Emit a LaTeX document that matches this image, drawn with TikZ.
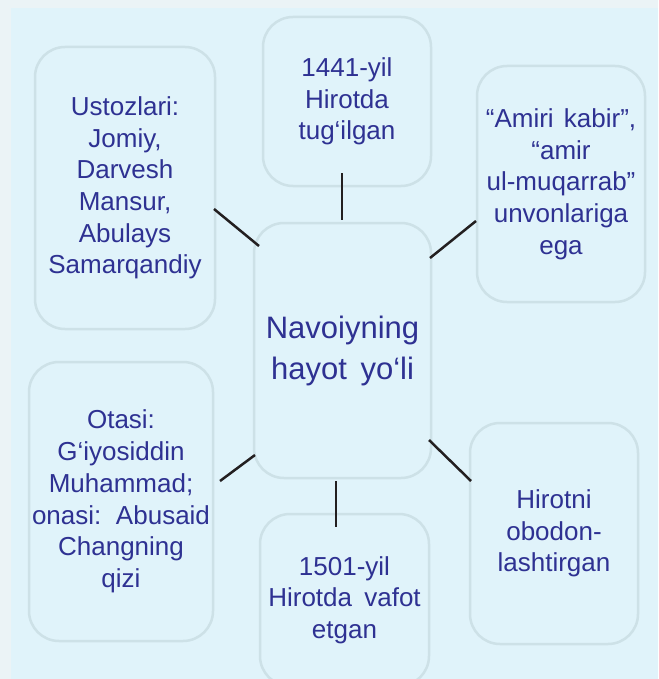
\documentclass[tikz,border=0pt]{standalone}
\usepackage{fontspec}
\setmainfont{Liberation Sans}
\definecolor{outerbg}{HTML}{EBF3F6}
\definecolor{innerbg}{HTML}{E0F3FA}
\definecolor{boxline}{HTML}{CDE1E7}
\definecolor{txt}{RGB}{46,49,146}
\definecolor{conn}{HTML}{231F20}
\begin{document}
\begin{tikzpicture}[x=1pt,y=-1pt,
  infobox/.style={draw=boxline, fill=innerbg, line width=2.5pt, rounded corners=30pt,
    align=center, text=txt, inner sep=0pt, font=\fontsize{26}{31.7}\selectfont},
  centerbox/.style={infobox, font=\fontsize{31}{41}\selectfont},
  connector/.style={draw=conn, line width=2.5pt}]
\useasboundingbox (0,0) rectangle (658,679);
\fill[outerbg] (0,0) rectangle (658,679);
\fill[innerbg] (11,8) rectangle (658,679);

\node[infobox, minimum width=180pt, minimum height=282pt] (u) at (125,188)
  {Ustozlari:\\Jomiy,\\Darvesh\\Mansur,\\Abulays\\Samarqandiy};
\node[infobox, minimum width=168pt, minimum height=169pt] (t) at (347,101.5)
  {1441-yil\\Hirotda\\tug‘ilgan};
\node[infobox, minimum width=168pt, minimum height=236pt] (a) at (561,184)
  {“Amiri\hspace{3pt} kabir”,\\“amir\\ul-muqarrab”\\unvonlariga\\ega};
\node[centerbox, minimum width=177pt, minimum height=255pt] (c) at (342.5,350.5)
  {Navoiyning\\hayot\hspace{5pt} yo‘li};
\node[infobox, minimum width=184pt, minimum height=279pt] (o) at (121,501.5)
  {Otasi:\\G‘iyosiddin\\Muhammad;\\onasi:\hspace{5pt} Abusaid\\Changning\\qizi};
\node[infobox, minimum width=169pt, minimum height=172pt] (b) at (344.5,600)
  {1501-yil\\Hirotda\hspace{5pt} vafot\\etgan};
\node[infobox, minimum width=168pt, minimum height=221pt] (h) at (554,533.5)
  {Hirotni\\obodon-\\lashtirgan};

\coordinate (u1) at (214,209);   \coordinate (u2) at (259,246);
\coordinate (t1) at (342,173);   \coordinate (t2) at (342,220);
\coordinate (a1) at (430,258);   \coordinate (a2) at (476,221);
\coordinate (o1) at (220,481);   \coordinate (o2) at (255,455);
\coordinate (b1) at (336,481);   \coordinate (b2) at (336,527);
\coordinate (h1) at (429,440);   \coordinate (h2) at (471,481);

\draw[connector] (u1) -- (u2);
\draw[connector] (t1) -- (t2);
\draw[connector] (a1) -- (a2);
\draw[connector] (o1) -- (o2);
\draw[connector] (b1) -- (b2);
\draw[connector] (h1) -- (h2);
\end{tikzpicture}
\end{document}
